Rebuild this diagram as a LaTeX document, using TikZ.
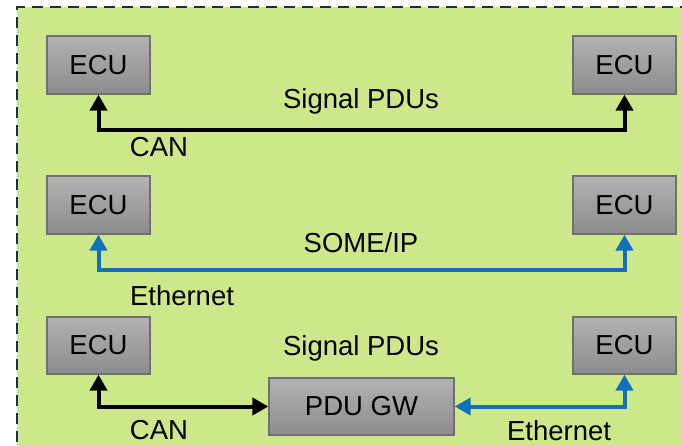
\documentclass[tikz,border=0pt]{standalone}
\usepackage{fontspec}
\setmainfont{Liberation Sans}
\usetikzlibrary{arrows.meta}
\definecolor{panelgreen}{RGB}{205,232,138}
\definecolor{framenavy}{RGB}{20,48,78}
\definecolor{ethblue}{RGB}{16,112,185}
\definecolor{boxedge}{RGB}{112,112,112}
\definecolor{boxtop}{RGB}{178,178,178}
\definecolor{boxbot}{RGB}{140,140,140}
\begin{document}
\begin{tikzpicture}[x=1pt,y=-1pt,
  txt/.style={font=\fontsize{27.5}{32}\selectfont},
  ecubox/.style={txt, draw=boxedge, line width=1.3pt, top color=boxtop, bottom color=boxbot,
    minimum width=103pt, minimum height=58pt, inner sep=0pt},
  gwbox/.style={ecubox, minimum width=185pt, minimum height=57pt},
  lbl/.style={txt, anchor=base, inner sep=0pt},
  tip/.tip={Triangle[length=16pt,width=17pt]},
  conn/.style={line width=4pt, tip-tip},
  canline/.style={conn, black},
  ethline/.style={conn, ethblue}]
  \useasboundingbox (0,0) rectangle (682,446);
  % panel with dashed frame
  \fill[panelgreen] (17,7) rectangle (700,460);
  \draw[framenavy, line width=2.3pt, dash pattern=on 11pt off 7pt] (17,460) -- (17,7) -- (700,7);

  % row 1: CAN signal PDUs
  \node[ecubox] (e1) at (98.5,65) {ECU};
  \node[ecubox] (e2) at (624.5,65) {ECU};
  \draw[canline] (e1.south) -- ++(0,35) -| (e2.south);
  \node[lbl] (l1) at (361,109) {Signal PDUs};
  \node[lbl] (c1) at (159,157) {CAN};

  % row 2: SOME/IP over Ethernet
  \node[ecubox] (e3) at (98.5,205) {ECU};
  \node[ecubox] (e4) at (624.5,205) {ECU};
  \draw[ethline] (e3.south) -- ++(0,35) -| (e4.south);
  \node[lbl] (l2) at (361,252) {SOME/IP};
  \node[lbl] (c2) at (182,305) {Ethernet};

  % row 3: PDU gateway between CAN and Ethernet
  \node[ecubox, minimum height=57pt] (e5) at (98.5,345.5) {ECU};
  \node[ecubox, minimum height=57pt] (e6) at (624.5,345.5) {ECU};
  \node[gwbox] (gw) at (361.5,406.5) {PDU GW};
  \draw[canline] (e5.south) |- (gw.west);
  \draw[ethline] (gw.east) -| (e6.south);
  \node[lbl] (l3) at (361,355) {Signal PDUs};
  \node[lbl] (c3) at (159,439) {CAN};
  \node[lbl] (c4) at (559,440) {Ethernet};
\end{tikzpicture}
\end{document}
